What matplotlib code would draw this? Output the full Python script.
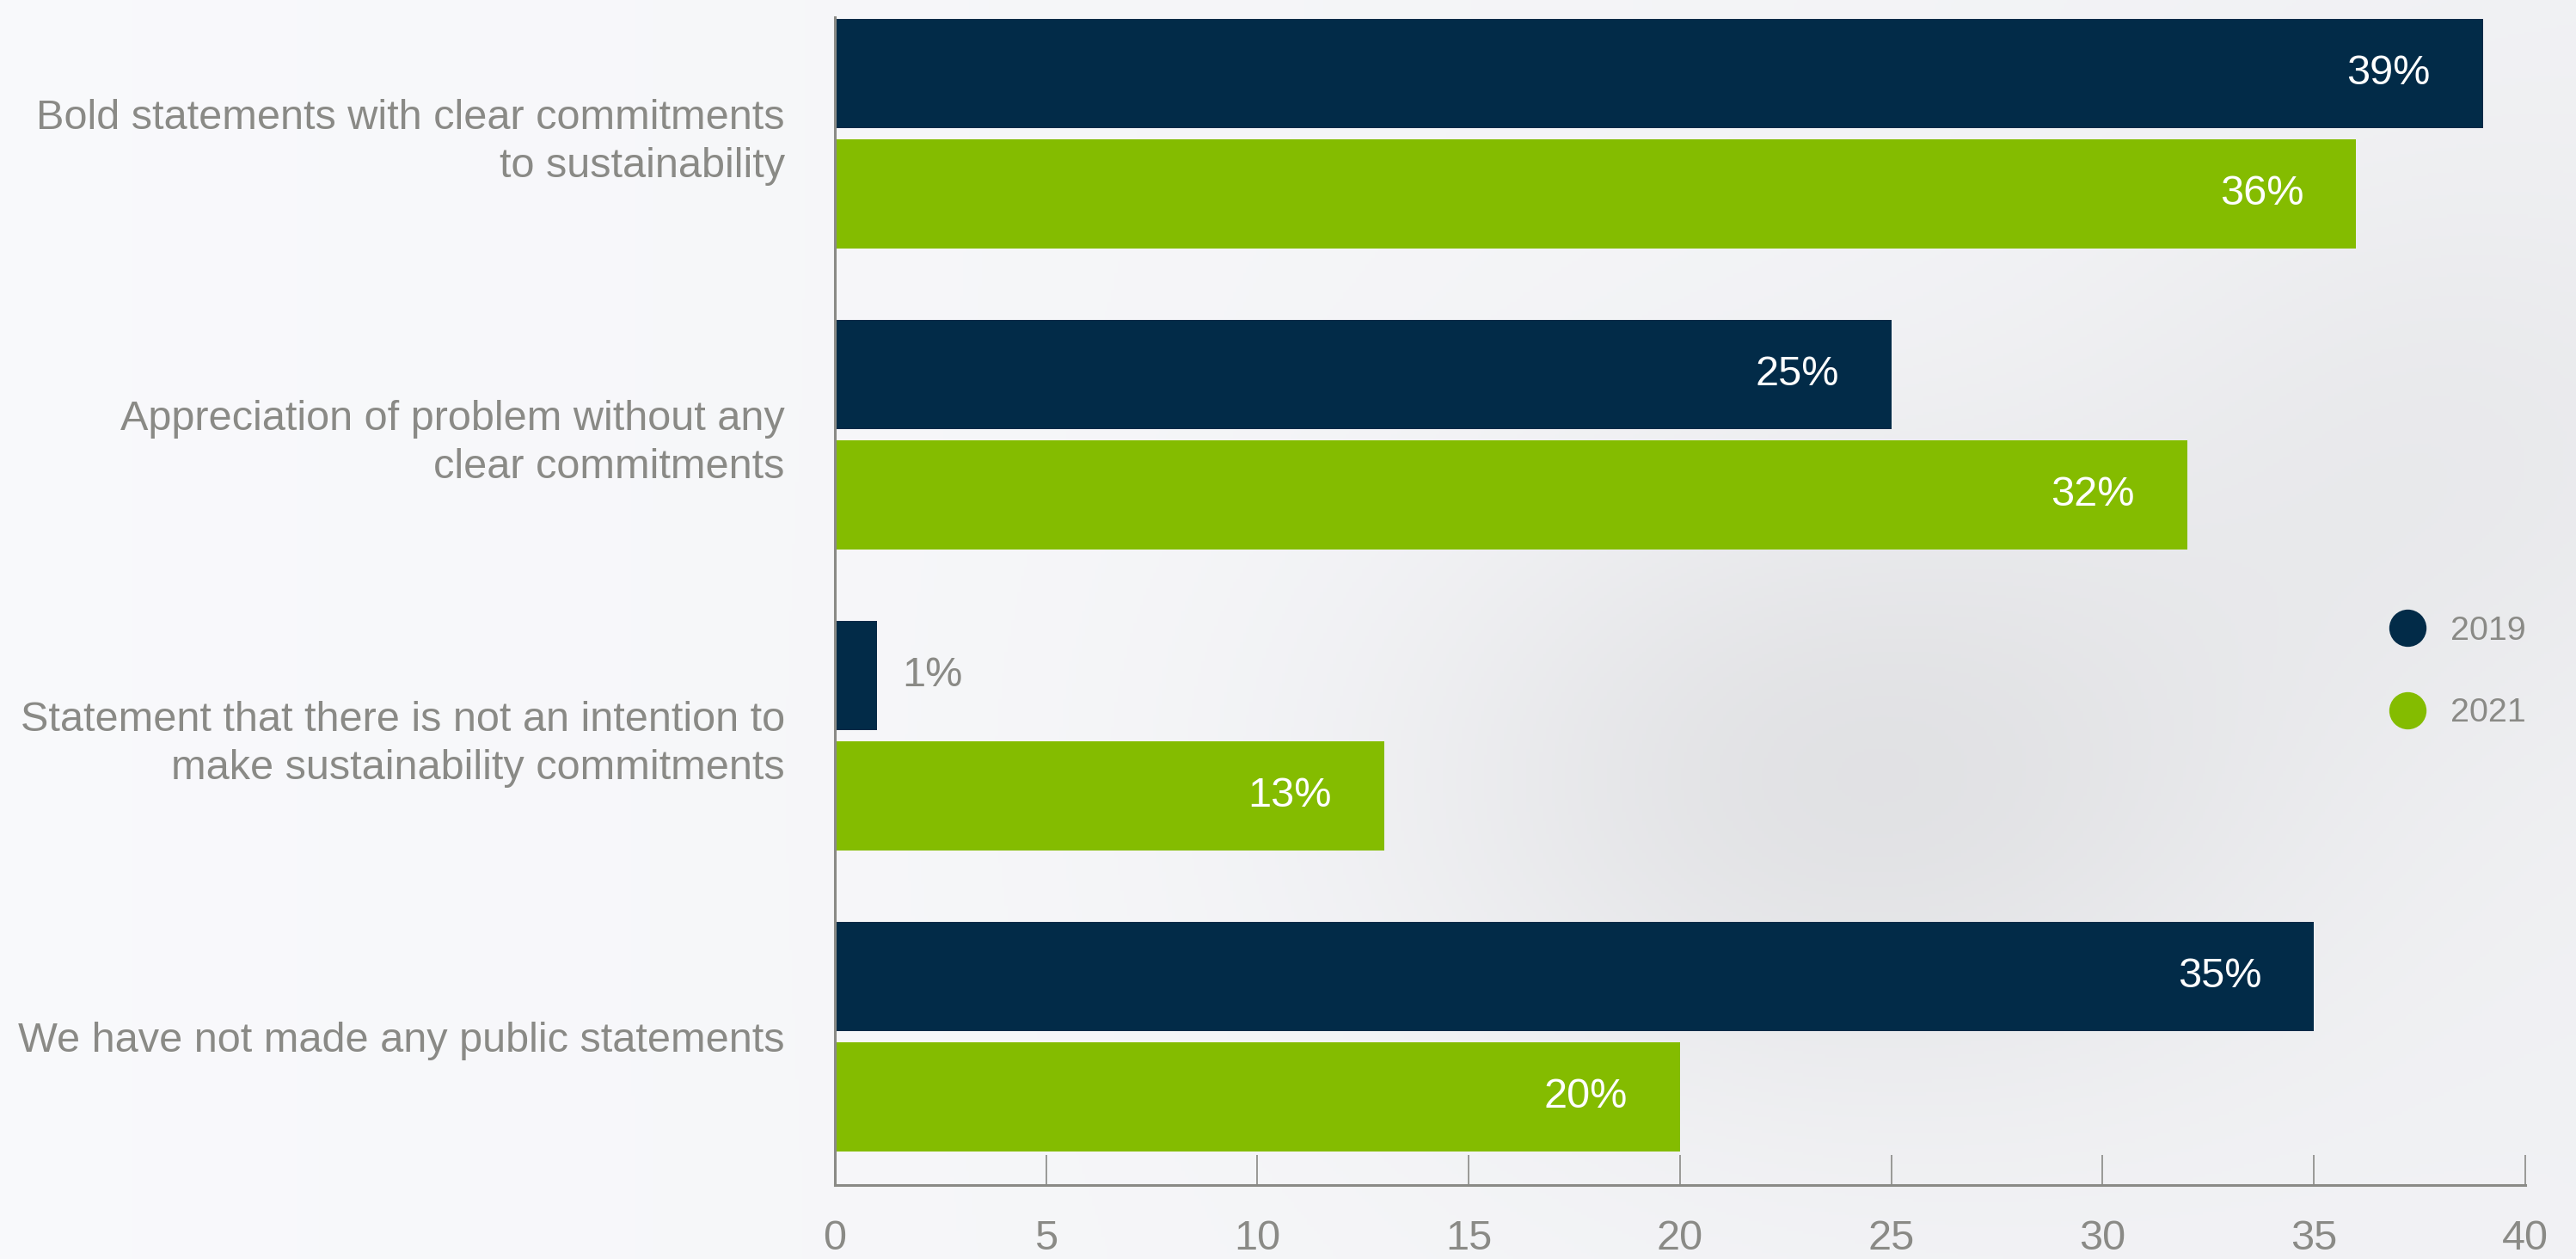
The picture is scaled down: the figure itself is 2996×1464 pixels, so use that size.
import numpy as np
import matplotlib.pyplot as plt
from matplotlib.lines import Line2D

# Datos del gráfico
categorias = [
    'Bold statements with clear commitments\nto sustainability',
    'Appreciation of problem without any\nclear commitments',
    'Statement that there is not an intention to\nmake sustainability commitments',
    'We have not made any public statements',
]
valores_2019 = [39, 25, 1, 35]
valores_2021 = [36, 32, 13, 20]
anios = ['2019', '2021']
ticks_x = [0, 5, 10, 15, 20, 25, 30, 35, 40]

color_2019 = '#022b48'
color_2021 = '#84bc00'
gris = '#8a8a86'

plt.rcParams['font.family'] = ['Liberation Sans', 'DejaVu Sans']

fig = plt.figure(figsize=(14.98, 7.32), dpi=200)

# Fondo claro con una mancha gris difusa
fondo_ax = fig.add_axes([0, 0, 1, 1], zorder=0)
yy, xx = np.mgrid[0:1:400j, 0:1:800j]
base = 0.976 - 0.03 * xx
base -= 0.07 * np.exp(-((xx - 0.72) ** 2 / 0.03 + (yy - 0.62) ** 2 / 0.06))
base -= 0.03 * np.exp(-((xx - 0.95) ** 2 / 0.02 + (yy - 0.35) ** 2 / 0.05))
rgb = np.dstack([base, base + 0.002, base + 0.012]).clip(0, 1)
fondo_ax.imshow(rgb, aspect='auto', extent=[0, 1, 0, 1], origin='upper')
fondo_ax.axis('off')

ax = fig.add_axes([0.3241, 0.0587, 0.6562, 0.9276], zorder=1)
ax.patch.set_alpha(0)

y = np.arange(len(categorias))
ax.barh(y - 0.2, valores_2019, height=0.363, color=color_2019)
ax.barh(y + 0.2, valores_2021, height=0.363, color=color_2021)

# Etiquetas de valor
for serie, desplaz in [(valores_2019, -0.2), (valores_2021, 0.2)]:
    for i, v in enumerate(serie):
        if v >= 5:
            ax.annotate(f'{v}%', xy=(v, i + desplaz), xytext=(-22, 0),
                        textcoords='offset points', ha='right', va='center',
                        color='white', fontsize=17.5)
        else:
            ax.annotate(f'{v}%', xy=(v, i + desplaz), xytext=(10.5, 0),
                        textcoords='offset points', ha='left', va='center',
                        color=gris, fontsize=17.5)

ax.set_xlim(0, 40)
ax.set_ylim(3.494, -0.387)
ax.set_xticks(ticks_x)
ax.set_xticklabels([str(t) for t in ticks_x])
ax.set_yticks(y)
ax.set_yticklabels(categorias, linespacing=1.3)

for lado in ['top', 'right']:
    ax.spines[lado].set_visible(False)
for lado in ['left', 'bottom']:
    ax.spines[lado].set_color(gris)
    ax.spines[lado].set_linewidth(1.1)

ax.tick_params(axis='x', direction='in', length=12.6, width=0.6, color=gris,
               labelcolor=gris, labelsize=17.5, pad=14.5)
ax.tick_params(axis='y', length=0, labelcolor=gris, labelsize=17.5, pad=21)

# Leyenda
handles = [
    Line2D([], [], marker='o', linestyle='', markersize=14.6, color=color_2019),
    Line2D([], [], marker='o', linestyle='', markersize=14.6, color=color_2021),
]
fig.legend(handles, anios, loc='center left', bbox_to_anchor=(0.928, 0.466),
           frameon=False, fontsize=14.2, labelcolor=gris, borderpad=0,
           borderaxespad=0, handlelength=1.0, handletextpad=0.77,
           labelspacing=1.5)

fig.savefig('out.png', dpi=200)
